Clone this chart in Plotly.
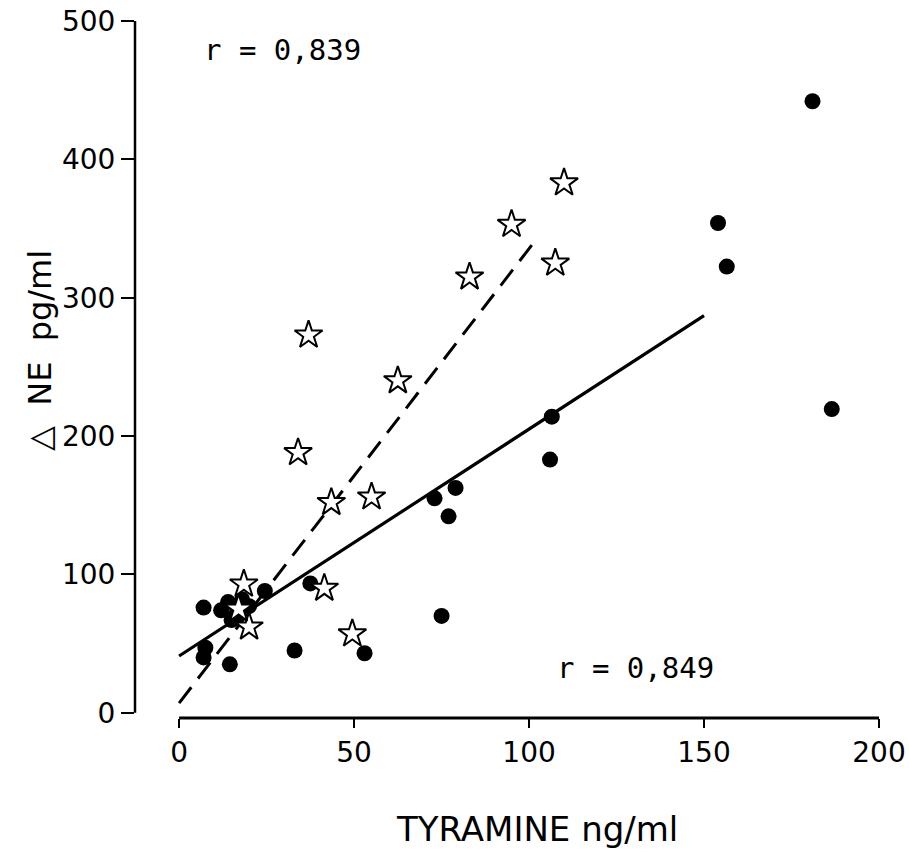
import plotly.graph_objects as go

# Data
star_x = [110, 95, 107.5, 83, 37, 62.5, 34, 43.5, 55, 41.5, 49.5, 18.5, 20, 17]
star_y = [383, 353, 325, 315, 273, 240, 188, 152, 156, 90, 57, 93, 62, 75]

dot_x = [181, 154, 156.5, 186.5, 106.5, 106, 79, 73, 77, 75, 53, 33, 37.5, 24.5,
         7, 12, 14, 16, 18, 20, 15, 7.5, 7, 14.5]
dot_y = [442, 354, 322.5, 219.5, 214, 183, 162.5, 155, 142, 70, 43, 45, 93.5, 88,
         76, 74, 80, 70, 82, 77, 67, 47, 40, 35]

solid_x = [0, 150]
solid_y = [41, 287]
dash_x = [0, 102]
dash_y = [7, 342]

x_ticks = [0, 50, 100, 150, 200]
y_ticks = [0, 100, 200, 300, 400, 500]

r_labels = ["r = 0,839", "r = 0,849"]

fig = go.Figure()

fig.add_trace(go.Scatter(x=solid_x, y=solid_y, mode="lines",
                         line=dict(color="black", width=3.2), hoverinfo="skip"))
fig.add_trace(go.Scatter(x=dash_x, y=dash_y, mode="lines",
                         line=dict(color="black", width=3, dash="20px,11px"), hoverinfo="skip"))
fig.add_trace(go.Scatter(x=dot_x, y=dot_y, mode="markers",
                         marker=dict(symbol="circle", size=16, color="black",
                                     line=dict(color="black", width=0))))
fig.add_trace(go.Scatter(x=star_x, y=star_y, mode="markers",
                         marker=dict(symbol="star", size=21, color="white",
                                     line=dict(color="black", width=2))))

tick_font = dict(family="DejaVu Sans", size=28, color="black")

fig.update_layout(
    width=909, height=853,
    margin=dict(l=135, r=30, t=21, b=135, autoexpand=False),
    paper_bgcolor="white", plot_bgcolor="white",
    showlegend=False,
    xaxis=dict(range=[-12.6, 200], showgrid=False, zeroline=False, showline=False,
               automargin=False, ticklabeloverflow="allow",
               tickmode="array", tickvals=x_ticks, ticktext=[str(v) for v in x_ticks],
               ticks="outside", ticklen=9, tickwidth=1.5, tickcolor="black",
               tickfont=tick_font),
    yaxis=dict(range=[-3.8, 500], showgrid=False, zeroline=False, showline=False,
               automargin=False, ticklabeloverflow="allow",
               tickmode="array", tickvals=y_ticks, ticktext=[str(v) for v in y_ticks],
               ticks="outside", ticklen=13, tickwidth=1.5, tickcolor="black",
               tickfont=tick_font),
    shapes=[
        dict(type="line", xref="x", yref="paper", x0=0, x1=200, y0=0, y1=0,
             line=dict(color="black", width=3)),
        dict(type="line", xref="paper", yref="y", x0=0, x1=0, y0=0, y1=500,
             line=dict(color="black", width=2.5)),
    ],
    annotations=[
        dict(text=r_labels[0], x=6.6, y=479, xref="x", yref="y", xanchor="left",
             yanchor="middle", showarrow=False,
             font=dict(family="DejaVu Sans Mono", size=29, color="black")),
        dict(text=r_labels[1], x=107.4, y=32, xref="x", yref="y", xanchor="left",
             yanchor="middle", showarrow=False,
             font=dict(family="DejaVu Sans Mono", size=29, color="black")),
        dict(text="TYRAMINE ng/ml", x=0.54, y=-0.159, xref="paper", yref="paper",
             xanchor="center", yanchor="middle", showarrow=False,
             font=dict(family="DejaVu Sans", size=34, color="black")),
        dict(text="△\u00a0 NE\u00a0 pg/ml", x=-0.128, y=0.528, xref="paper", yref="paper",
             xanchor="center", yanchor="middle", showarrow=False, textangle=-90,
             font=dict(family="DejaVu Sans", size=32, color="black")),
    ],
)

# remove the default 8px page margin so the figure fills the window exactly
fig.write_html("out.html",
               config={"displayModeBar": False},
               post_script="document.body.style.margin='0px';document.body.style.overflow='hidden';")
